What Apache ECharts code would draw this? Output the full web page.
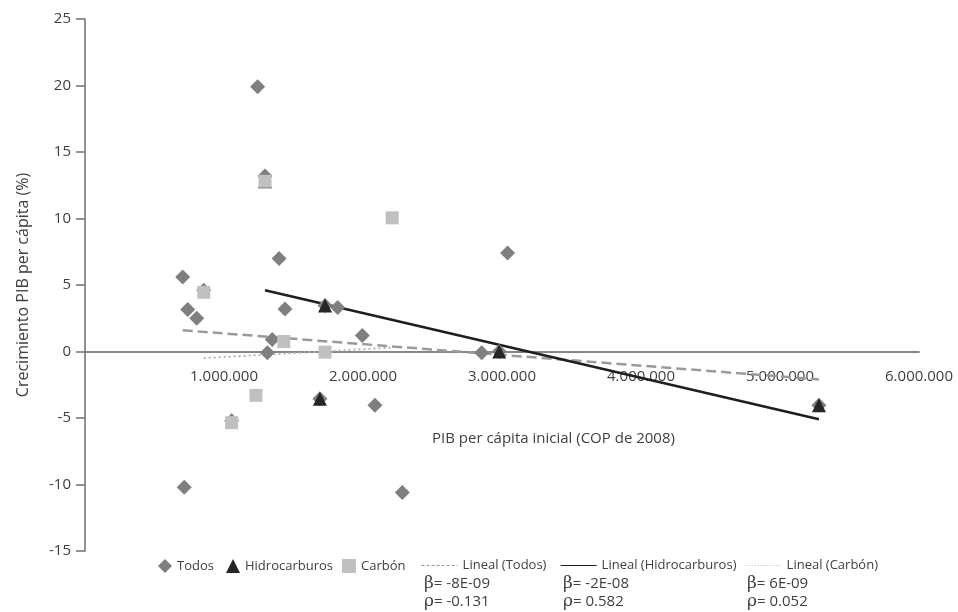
<!DOCTYPE html>
<html>
<head>
<meta charset="utf-8">
<title>Crecimiento PIB per cápita</title>
<script src="https://cdn.jsdelivr.net/npm/echarts@6/dist/echarts.min.js"></script>
<style>
  html, body { margin: 0; padding: 0; background: #ffffff; }
  #chart { width: 958px; height: 612px; }
</style>
</head>
<body>
<div id="chart"></div>
<script>
// Initial GDP per capita (COP of 2008) vs. GDP per capita growth (%)
const todos = [
  [1242000, 19.9], [1295000, 13.2], [1396000, 7.0], [703000, 5.6],
  [854000, 4.6], [739000, 3.15], [804000, 2.5], [1439000, 3.2],
  [1727000, 3.45], [1818000, 3.3], [1995000, 1.2], [1347000, 0.9],
  [1312000, -0.1], [2854000, -0.1], [2980000, 0.0], [1690000, -3.55],
  [2086000, -4.05], [1055000, -5.2], [714000, -10.2], [2283000, -10.6],
  [3040000, 7.4], [5280000, -4.05]
];
const hidrocarburos = [
  [1295000, 12.8], [1727000, 3.45], [1690000, -3.55], [2980000, 0.0], [5280000, -4.05]
];
const carbon = [
  [854000, 4.45], [1055000, -5.35], [1230000, -3.3], [1295000, 12.8],
  [1430000, 0.75], [1727000, -0.05], [2210000, 10.05]
];
// Linear trend lines (start and end of each fitted segment)
const lineaTodos = [[703000, 1.6], [5280000, -2.1]];
const lineaHidrocarburos = [[1295000, 4.6], [5280000, -5.1]];
const lineaCarbon = [[854000, -0.5], [2210000, 0.3]];
// Regression statistics shown under the legend
const betas = ['-8E-09', '-2E-08', '6E-09'];
const rhos = ['-0.131', '0.582', '0.052'];

// Axis ranges
const X_MIN = 0, X_MAX = 6000000, X_STEP = 1000000;
const Y_MIN = -15, Y_MAX = 25, Y_STEP = 5;

const FONT = '"Open Sans", "DejaVu Sans", sans-serif';
const TXT = '#404040';

const GRID = { left: 85, right: 39, top: 19, bottom: 61 };
const gridHeight = 612 - GRID.top - GRID.bottom;
// the horizontal axis crosses the vertical one at y = 0
const xAxisOffset = -gridHeight * (0 - Y_MIN) / (Y_MAX - Y_MIN);

function miles(v) {
  if (v === 0) return '';
  return String(v).replace(/\B(?=(\d{3})+(?!\d))/g, '.');
}

const chart = echarts.init(document.getElementById('chart'), null, { renderer: 'canvas' });

const statX = [424, 563, 747];
const statGraphics = [];
statX.forEach((x, i) => {
  statGraphics.push({
    type: 'text', left: x, top: 575,
    style: {
      text: '{g|β}= ' + betas[i],
      fill: TXT, font: '15px ' + FONT,
      rich: { g: { fontFamily: '"DejaVu Serif", serif', fontSize: 17, fill: TXT } }
    }
  });
  statGraphics.push({
    type: 'text', left: x, top: 593,
    style: {
      text: '{g|ρ}= ' + rhos[i],
      fill: TXT, font: '15px ' + FONT,
      rich: { g: { fontFamily: '"DejaVu Serif", serif', fontSize: 17, fill: TXT } }
    }
  });
});

function legendItem(name, left, opts) {
  return Object.assign({
    data: [name],
    left: left,
    top: 559,
    padding: 0,
    itemWidth: 14,
    itemHeight: 14,
    textStyle: { color: TXT, fontSize: 13, fontFamily: FONT },
    selectedMode: false
  }, opts || {});
}

function lineLegend(dash) {
  return { itemWidth: 36, itemStyle: { opacity: 0 }, lineStyle: { width: 1.2, type: dash } };
}

chart.setOption({
  backgroundColor: '#ffffff',
  animation: false,
  textStyle: { fontFamily: FONT },
  grid: { left: GRID.left, right: GRID.right, top: GRID.top, bottom: GRID.bottom, containLabel: false },
  xAxis: {
    type: 'value',
    min: X_MIN, max: X_MAX, interval: X_STEP,
    position: 'bottom',
    offset: xAxisOffset,
    axisLine: { onZero: false, lineStyle: { color: '#858585', width: 2 } },
    axisTick: { show: false },
    splitLine: { show: false },
    axisLabel: { margin: 18, color: TXT, fontSize: 15, fontFamily: FONT, formatter: miles }
  },
  yAxis: {
    type: 'value',
    min: Y_MIN, max: Y_MAX, interval: Y_STEP,
    name: 'Crecimiento PIB per cápita (%)',
    nameLocation: 'middle',
    nameGap: 54,
    nameTextStyle: { color: TXT, fontSize: 16, fontFamily: FONT },
    axisLine: { show: true, onZero: false, lineStyle: { color: '#707070', width: 1.5 } },
    axisTick: { show: true, length: 9, lineStyle: { color: '#707070', width: 1.5 } },
    splitLine: { show: false },
    axisLabel: { margin: 14, color: TXT, fontSize: 15, fontFamily: FONT }
  },
  legend: [
    legendItem({ name: 'Todos', icon: 'diamond' }, 158),
    legendItem({ name: 'Hidrocarburos', icon: 'triangle' }, 226),
    legendItem({ name: 'Carbón', icon: 'rect' }, 342),
    legendItem('Lineal (Todos)', 421, lineLegend([3, 2])),
    legendItem('Lineal (Hidrocarburos)', 560, lineLegend('solid')),
    legendItem('Lineal (Carbón)', 745, lineLegend([1, 2]))
  ],
  graphic: [
    {
      type: 'text', left: 432, top: 431,
      style: { text: 'PIB per cápita inicial (COP de 2008)', fill: TXT, font: '15px ' + FONT }
    }
  ].concat(statGraphics),
  series: [
    {
      name: 'Lineal (Todos)', type: 'line', data: lineaTodos, symbol: 'none', z: 3,
      itemStyle: { color: '#9a9a9a' },
      lineStyle: { color: '#9a9a9a', width: 2.5, type: [10, 5] }
    },
    {
      name: 'Lineal (Hidrocarburos)', type: 'line', data: lineaHidrocarburos, symbol: 'none', z: 3,
      itemStyle: { color: '#1e1e1e' },
      lineStyle: { color: '#1e1e1e', width: 2.5, type: 'solid' }
    },
    {
      name: 'Lineal (Carbón)', type: 'line', data: lineaCarbon, symbol: 'none', z: 3,
      itemStyle: { color: '#b4b4b4' },
      lineStyle: { color: '#b4b4b4', width: 2, type: [2, 3] }
    },
    {
      name: 'Todos', type: 'scatter', data: todos, symbol: 'diamond', symbolSize: 15, z: 4,
      itemStyle: { color: '#7f7f7f', opacity: 1 }
    },
    {
      name: 'Hidrocarburos', type: 'scatter', data: hidrocarburos, symbol: 'triangle', symbolSize: 14, z: 5,
      itemStyle: { color: '#262626', opacity: 1 }
    },
    {
      name: 'Carbón', type: 'scatter', data: carbon, symbol: 'rect', symbolSize: 13, z: 6,
      itemStyle: { color: '#c0c0c0', opacity: 1 }
    }
  ]
});
</script>
</body>
</html>
